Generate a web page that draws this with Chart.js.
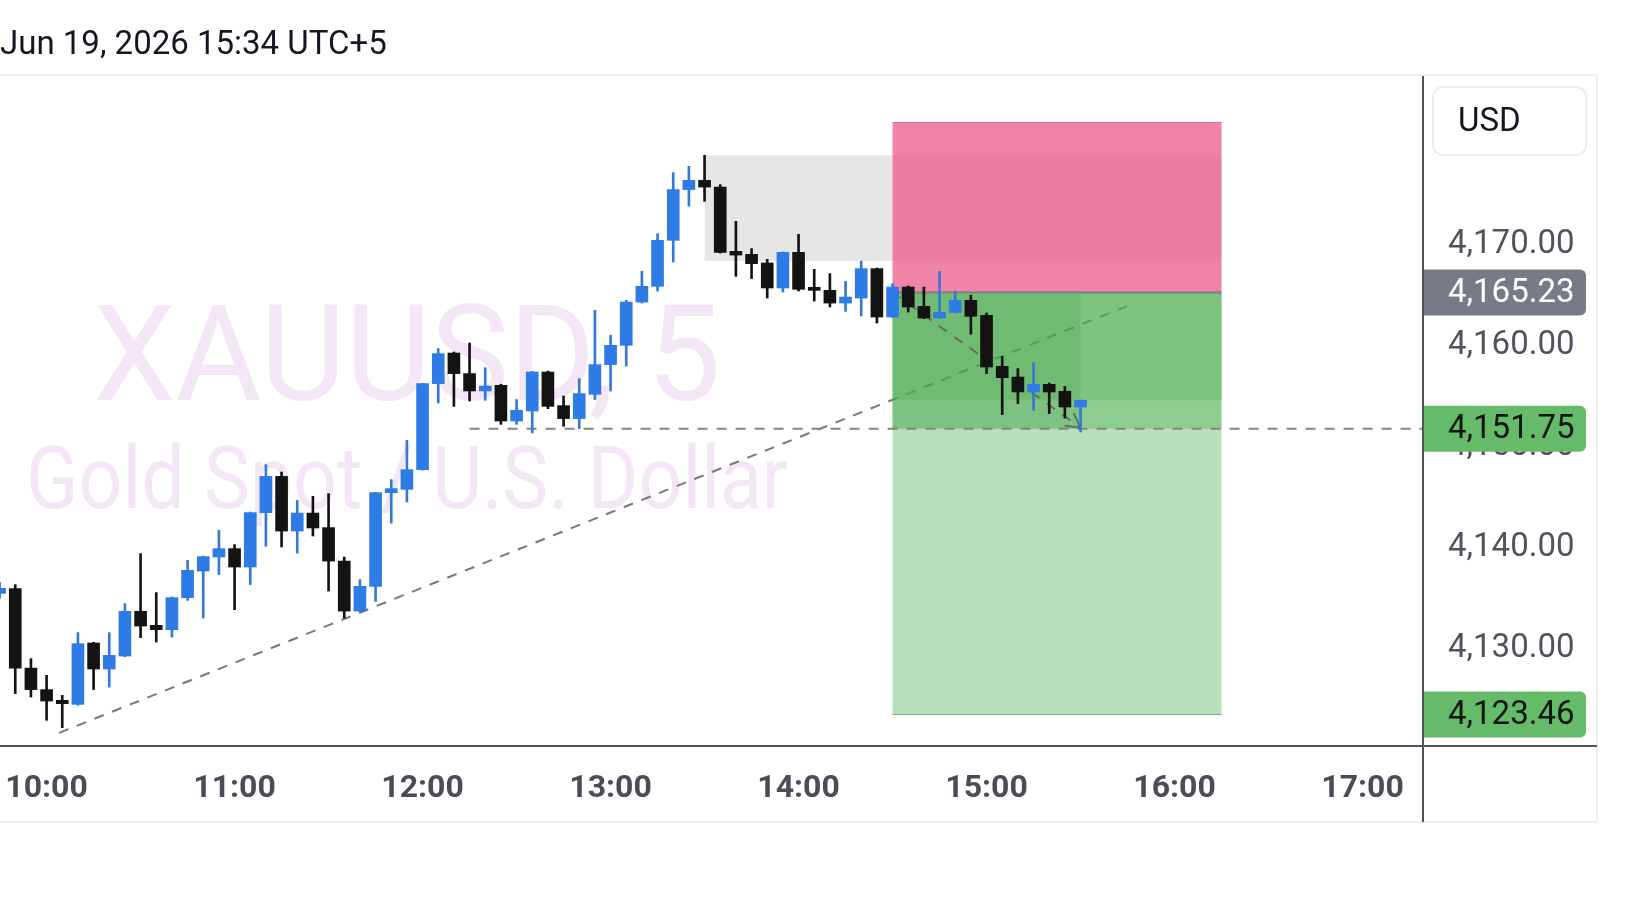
<!DOCTYPE html>
<html>
<head>
<meta charset="utf-8">
<script src="https://cdn.jsdelivr.net/npm/chart.js@4/dist/chart.umd.min.js"></script>
<style>
  html, body { margin: 0; padding: 0; background: #fff; }
  #wrap { width: 1625px; height: 914px; position: relative; }
</style>
</head>
<body>
<div id="wrap"><canvas id="chart"></canvas></div>
<script>
// 5-minute candles, XAUUSD
const times = [
  '09:45','09:50','09:55','10:00','10:05','10:10','10:15','10:20','10:25','10:30','10:35','10:40',
  '10:45','10:50','10:55','11:00','11:05','11:10','11:15','11:20','11:25','11:30','11:35','11:40',
  '11:45','11:50','11:55','12:00','12:05','12:10','12:15','12:20','12:25','12:30','12:35','12:40',
  '12:45','12:50','12:55','13:00','13:05','13:10','13:15','13:20','13:25','13:30','13:35','13:40',
  '13:45','13:50','13:55','14:00','14:05','14:10','14:15','14:20','14:25','14:30','14:35','14:40',
  '14:45','14:50','14:55','15:00','15:05','15:10','15:15','15:20','15:25','15:30'
];
const opens = [
  4135.45, 4135.92, 4128.06, 4125.93, 4124.87, 4124.47, 4130.54, 4127.97, 4129.25, 4133.68, 4132.29, 4131.86,
  4135.03, 4137.66, 4139.05, 4139.88, 4138.06, 4143.44, 4147.03, 4141.62, 4143.40, 4141.96, 4138.65, 4133.70,
  4136.15, 4145.42, 4145.75, 4147.70, 4156.21, 4159.24, 4157.20, 4155.48, 4156.04, 4152.51, 4153.50, 4157.36,
  4154.03, 4152.75, 4155.15, 4158.09, 4160.00, 4164.28, 4165.84, 4170.39, 4175.41, 4176.33, 4175.66, 4169.30,
  4169.00, 4168.15, 4165.67, 4169.20, 4165.61, 4165.44, 4164.18, 4164.68, 4167.59, 4162.80, 4165.77, 4163.86,
  4162.70, 4163.26, 4164.45, 4162.97, 4157.92, 4156.86, 4155.38, 4156.14, 4155.45, 4153.89
];
const highs = [
  4136.55, 4136.32, 4128.99, 4127.34, 4125.36, 4131.57, 4130.61, 4131.57, 4134.44, 4139.39, 4135.53, 4135.10,
  4138.72, 4139.15, 4141.69, 4140.28, 4143.50, 4148.19, 4147.46, 4144.66, 4145.06, 4145.32, 4139.05, 4136.81,
  4145.45, 4146.71, 4150.60, 4156.25, 4159.67, 4159.34, 4160.23, 4157.79, 4156.15, 4154.63, 4157.42, 4157.45,
  4154.98, 4156.70, 4163.46, 4160.99, 4164.45, 4167.32, 4171.05, 4177.09, 4177.71, 4178.80, 4175.90, 4172.27,
  4169.57, 4168.51, 4169.25, 4170.98, 4167.52, 4167.09, 4166.33, 4168.34, 4167.65, 4166.10, 4165.87, 4165.77,
  4167.32, 4165.37, 4164.95, 4163.20, 4158.91, 4157.69, 4158.29, 4156.27, 4155.94, 4154.60
];
const lows = [
  4134.95, 4125.53, 4125.19, 4122.89, 4122.17, 4124.37, 4125.93, 4126.18, 4129.20, 4131.07, 4130.64, 4131.13,
  4134.76, 4133.01, 4137.31, 4133.84, 4136.32, 4140.11, 4140.04, 4139.44, 4141.13, 4135.68, 4133.01, 4133.65,
  4134.66, 4142.41, 4144.49, 4147.65, 4154.29, 4153.96, 4154.49, 4154.56, 4152.18, 4152.18, 4151.32, 4153.73,
  4151.98, 4151.76, 4154.63, 4155.48, 4157.95, 4164.18, 4165.37, 4168.24, 4173.78, 4174.25, 4169.13, 4166.83,
  4166.60, 4164.68, 4165.27, 4165.37, 4164.38, 4163.79, 4163.36, 4162.90, 4162.21, 4162.75, 4163.29, 4162.65,
  4162.65, 4163.20, 4161.09, 4157.20, 4153.14, 4154.23, 4153.57, 4153.24, 4152.80, 4151.42
];
const closes = [
  4135.95, 4128.06, 4125.93, 4124.80, 4124.54, 4130.48, 4127.97, 4129.32, 4133.68, 4132.22, 4131.86, 4135.03,
  4137.73, 4139.09, 4139.88, 4138.06, 4143.44, 4147.03, 4141.62, 4143.40, 4141.92, 4138.65, 4133.70, 4136.15,
  4145.42, 4145.82, 4147.70, 4156.21, 4159.18, 4157.20, 4155.48, 4155.97, 4152.51, 4153.57, 4157.36, 4153.96,
  4152.75, 4155.22, 4158.09, 4160.00, 4164.28, 4165.84, 4170.39, 4175.41, 4176.33, 4175.66, 4169.20, 4168.93,
  4168.08, 4165.67, 4169.20, 4165.54, 4165.44, 4164.18, 4164.78, 4167.59, 4162.80, 4165.77, 4163.79, 4162.70,
  4163.26, 4164.45, 4162.87, 4157.85, 4156.80, 4155.38, 4156.14, 4155.38, 4153.89, 4154.56
];

// axis ticks
const hourTicks = ['10:00', '11:00', '12:00', '13:00', '14:00', '15:00', '16:00', '17:00'];
const priceTicks = [4130, 4140, 4150, 4160, 4170];

// drawings on the chart
const headerText = 'Jun 19, 2026 15:34 UTC+5';
const symbolText = 'XAUUSD, 5';
const descText = 'Gold Spot / U.S. Dollar';
const currency = 'USD';
const zoneBox = { from: '13:30', to: '16:15', top: 4178.80, bottom: 4168.35 };
const position = { from: '14:30', to: '16:15', stop: 4182.05, entry: 4165.23, target: 4123.46 };
const currentPrice = 4151.75;
const rayLine = { from: '12:15', price: 4151.75 };
const trendLine = [['10:04', 4121.65], ['15:47', 4164.15]];
const arrowLine = [['14:30', 4165.23], ['15:30', 4151.85]];

const UP = '#2f7be5';
const DOWN = '#131313';

const toMin = t => { const [h, m] = t.split(':').map(Number); return h * 60 + m; };
const fmt = v => v.toLocaleString('en-US', { minimumFractionDigits: 2, maximumFractionDigits: 2 });
const isUp = times.map((t, i) => closes[i] >= opens[i]);

function dashedLine(ctx, x1, y1, x2, y2, color, dash) {
    ctx.save();
    ctx.strokeStyle = color;
    ctx.lineWidth = 2;
    ctx.setLineDash(dash);
    ctx.beginPath();
    ctx.moveTo(x1, y1);
    ctx.lineTo(x2, y2);
    ctx.stroke();
    ctx.restore();
}

function priceTag(ctx, yPix, text, bg, fg, left, right) {
    const h = 46;
    ctx.fillStyle = bg;
    ctx.beginPath();
    ctx.roundRect(left, yPix - h / 2, right - left, h, [0, 6, 6, 0]);
    ctx.fill();
    ctx.fillStyle = fg;
    ctx.font = '33px Roboto';
    ctx.textAlign = 'left';
    ctx.textBaseline = 'middle';
    ctx.fillText(text, left + 24, yPix + 1);
}

const decor = {
    id: 'decor',
    beforeDatasetsDraw(chart) {
        const { ctx, chartArea: a, scales: { x, y } } = chart;
        const X = t => x.getPixelForValue(toMin(t));
        const Y = v => y.getPixelForValue(v);
        ctx.save();
        ctx.beginPath();
        ctx.rect(a.left, a.top, a.width, a.height);
        ctx.clip();

        // watermark
        ctx.fillStyle = '#f3e6f5';
        ctx.textAlign = 'left';
        ctx.textBaseline = 'alphabetic';
        ctx.font = '133px Roboto';
        ctx.fillText(symbolText, 93, 400, 628);
        ctx.font = '88px Roboto';
        ctx.fillText(descText, 26, 508, 762);

        // long trend line
        dashedLine(ctx, X(trendLine[0][0]), Y(trendLine[0][1]), X(trendLine[1][0]), Y(trendLine[1][1]), '#777', [10, 9]);

        // grey zone
        ctx.fillStyle = '#e6e6e6';
        ctx.fillRect(X(zoneBox.from), Y(zoneBox.top), X(zoneBox.to) - X(zoneBox.from), Y(zoneBox.bottom) - Y(zoneBox.top));

        // short position tool
        const px1 = X(position.from), px2 = X(position.to), pw = px2 - px1;
        const lastT = times[times.length - 1];
        ctx.fillStyle = 'rgba(238,90,139,0.75)';
        ctx.fillRect(px1, Y(position.stop), pw, Y(position.entry) - Y(position.stop));
        ctx.fillStyle = 'rgba(76,175,80,0.4)';
        ctx.fillRect(px1, Y(position.entry), pw, Y(position.target) - Y(position.entry));
        ctx.fillStyle = 'rgba(76,175,80,0.38)';
        ctx.fillRect(px1, Y(position.entry), pw, Y(currentPrice) - Y(position.entry));
        ctx.fillStyle = 'rgba(76,175,80,0.27)';
        ctx.fillRect(px1, Y(position.entry), pw, Y(closes[closes.length - 1]) - Y(position.entry));
        ctx.fillStyle = 'rgba(60,150,64,0.2)';
        ctx.fillRect(px1, Y(position.entry), X(lastT) - px1, Y(currentPrice) - Y(position.entry));
        ctx.strokeStyle = 'rgba(200,90,130,0.5)';
        ctx.lineWidth = 1;
        ctx.strokeRect(px1, Y(position.stop), pw, 0);
        ctx.strokeStyle = 'rgba(110,160,110,0.6)';
        ctx.strokeRect(px1, Y(position.target), pw, 0);
        ctx.strokeStyle = '#858585';
        ctx.lineWidth = 2.5;
        ctx.beginPath();
        ctx.moveTo(px1, Y(position.entry));
        ctx.lineTo(px2, Y(position.entry));
        ctx.stroke();

        // horizontal ray
        dashedLine(ctx, X(rayLine.from), Y(rayLine.price), a.right, Y(rayLine.price), '#858585', [10, 9]);

        // arrow
        const ax1 = X(arrowLine[0][0]), ay1 = Y(arrowLine[0][1]);
        const ax2 = X(arrowLine[1][0]), ay2 = Y(arrowLine[1][1]);
        dashedLine(ctx, ax1, ay1, ax2, ay2, 'rgba(90,90,90,0.75)', [10, 9]);
        const ang = Math.atan2(ay2 - ay1, ax2 - ax1);
        ctx.strokeStyle = 'rgba(90,90,90,0.75)';
        ctx.lineWidth = 2;
        [0.5, -0.5].forEach(d => {
            ctx.beginPath();
            ctx.moveTo(ax2, ay2);
            ctx.lineTo(ax2 - 16 * Math.cos(ang + d), ay2 - 16 * Math.sin(ang + d));
            ctx.stroke();
        });
        ctx.restore();
    },
    afterDraw(chart) {
        const { ctx, chartArea: a, scales: { y } } = chart;
        const W = chart.width;
        const edge = W - 28;
        const bottom = a.bottom + 76;
        ctx.save();
        // frame
        ctx.strokeStyle = '#eeeeee';
        ctx.lineWidth = 2;
        ctx.beginPath();
        ctx.moveTo(0, a.top - 1); ctx.lineTo(edge, a.top - 1);
        ctx.moveTo(0, bottom); ctx.lineTo(edge, bottom);
        ctx.moveTo(edge, a.top); ctx.lineTo(edge, bottom);
        ctx.stroke();
        ctx.strokeStyle = '#50535e';
        ctx.lineWidth = 2;
        ctx.beginPath();
        ctx.moveTo(0, a.bottom); ctx.lineTo(edge, a.bottom);
        ctx.moveTo(a.right, a.top); ctx.lineTo(a.right, bottom);
        ctx.stroke();

        // currency box
        ctx.fillStyle = '#fff';
        ctx.strokeStyle = '#e6e8ee';
        ctx.lineWidth = 1.5;
        ctx.beginPath();
        ctx.roundRect(a.right + 10, a.top + 11, 153, 68, 10);
        ctx.fill();
        ctx.stroke();
        ctx.fillStyle = '#131722';
        ctx.font = '33px Roboto';
        ctx.textAlign = 'left';
        ctx.textBaseline = 'middle';
        ctx.fillText(currency, a.right + 35, a.top + 47);

        // price tags
        const tagR = a.right + 163;
        priceTag(ctx, y.getPixelForValue(position.entry), fmt(position.entry), '#787b86', '#ffffff', a.right + 1, tagR);
        priceTag(ctx, y.getPixelForValue(currentPrice), fmt(currentPrice), '#66bb6a', '#0c160c', a.right + 1, tagR);
        priceTag(ctx, y.getPixelForValue(position.target), fmt(position.target), '#66bb6a', '#0c160c', a.right + 1, tagR);
        ctx.restore();
    }
};

const bodyData = times.map((t, i) => ({ x: toMin(t), y: [opens[i], closes[i]] }));
const wickData = times.map((t, i) => ({ x: toMin(t), y: [lows[i], highs[i]] }));

new Chart(document.getElementById('chart'), {
    type: 'bar',
    data: {
        datasets: [{
            label: 'body',
            data: bodyData,
            backgroundColor: isUp.map(u => u ? UP : DOWN),
            borderWidth: 0,
            barThickness: 12,
            minBarLength: 3,
            grouped: false
        }, {
            label: 'wick',
            data: wickData,
            backgroundColor: isUp.map(u => u ? '#3579d8' : DOWN),
            borderWidth: 0,
            barThickness: 2,
            grouped: false
        }]
    },
    options: {
        responsive: true,
        maintainAspectRatio: false,
        animation: false,
        events: [],
        layout: { padding: 0 },
        plugins: {
            legend: { display: false },
            tooltip: { enabled: false },
            title: {
                display: true,
                text: headerText,
                align: 'start',
                color: '#131722',
                font: { family: 'Roboto', size: 33, weight: 'normal', lineHeight: 1.2 },
                padding: { top: 26, bottom: 10.4 }
            }
        },
        scales: {
            x: {
                type: 'linear',
                offset: false,
                min: 585.13,
                max: 1039.3,
                grid: { display: false, drawTicks: false },
                border: { display: false },
                ticks: {
                    padding: 24,
                    maxRotation: 0,
                    autoSkip: false,
                    color: '#4a4d57',
                    font: { family: 'Roboto', size: 32, weight: 'bold' },
                    callback: v => Math.floor(v / 60) + ':00'
                },
                afterBuildTicks: s => { s.ticks = hourTicks.map(t => ({ value: toMin(t) })); },
                afterFit: s => { s.height = 168; s.paddingLeft = 0; s.paddingRight = 0; }
            },
            y: {
                position: 'right',
                min: 4120.35,
                max: 4186.65,
                grid: { display: false, drawTicks: false },
                border: { display: false },
                ticks: {
                    padding: 25,
                    color: '#50535e',
                    font: { family: 'Roboto', size: 33 },
                    callback: v => fmt(v)
                },
                afterBuildTicks: s => { s.ticks = priceTicks.map(v => ({ value: v })); },
                afterFit: s => { s.width = 202; s.paddingTop = 0; s.paddingBottom = 0; }
            }
        }
    },
    plugins: [decor]
});
</script>
</body>
</html>
